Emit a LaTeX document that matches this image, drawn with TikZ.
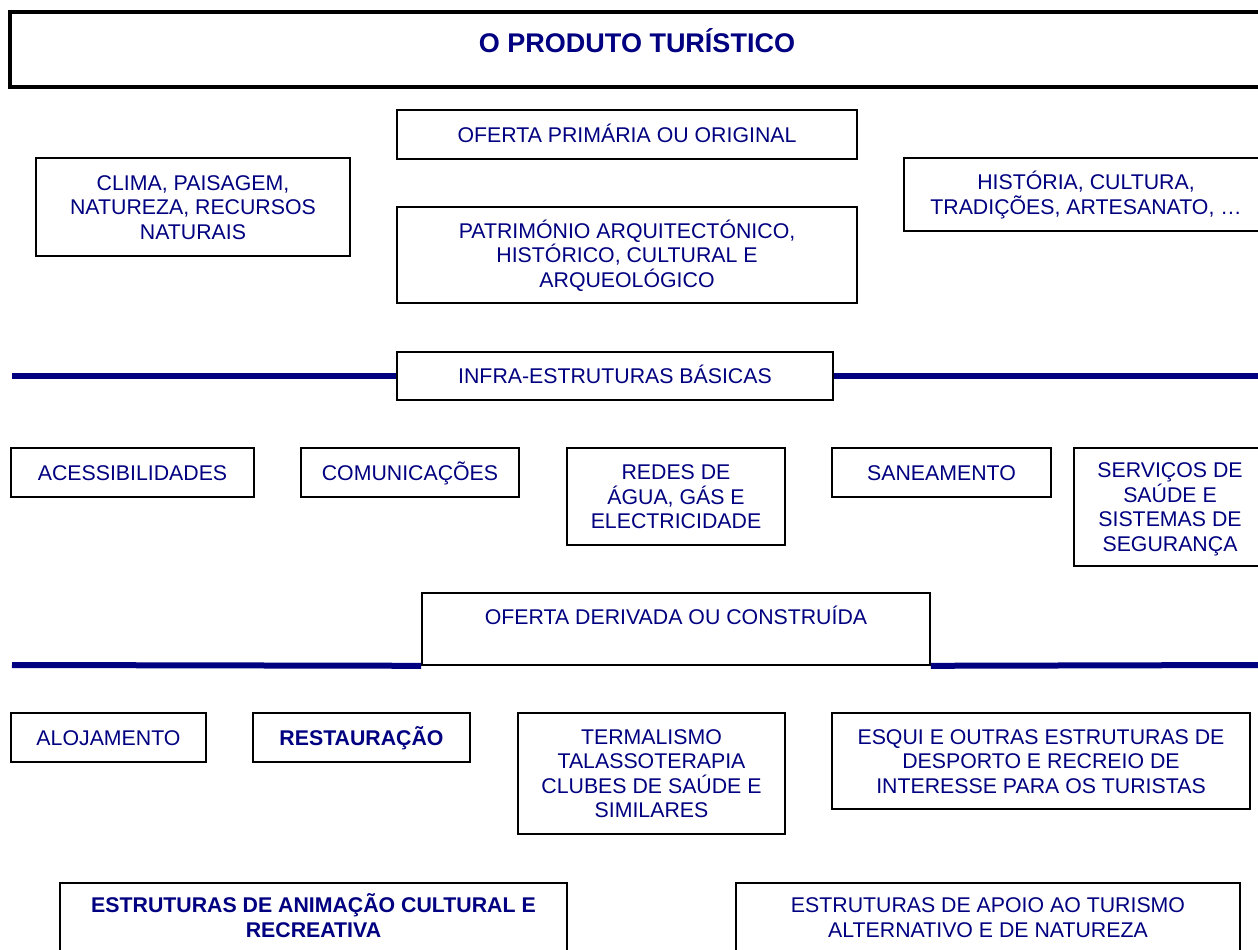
\documentclass[tikz,border=0pt]{standalone}
\usepackage{fontspec}
\setmainfont{Liberation Sans}
\definecolor{navy}{RGB}{0,0,128}
\newcommand{\ft}{\rule{0pt}{22bp}}
\newcommand{\lb}{\rule[-6.7bp]{0pt}{6.7bp}}
\newcommand{\txtfont}{\fontsize{21.3bp}{24.5bp}\selectfont}
\newcommand{\ttlfont}{\fontsize{27bp}{32bp}\selectfont\bfseries}
\tikzset{
  box/.style={draw=black, line width=1.6bp, inner sep=0pt, align=center, text=navy, font=\txtfont},
  ttlbox/.style={draw=black, line width=4bp, inner sep=0pt},
  txt/.style={inner sep=0pt, align=center, text=navy, font=\txtfont},
  bar/.style={draw=navy, line width=6bp},
}
\begin{document}
\begin{tikzpicture}[x=1bp,y=-1bp]
\useasboundingbox (0,0) rectangle (1258,950);
\fill[white] (0,0) rectangle (1258,950);
\clip (0,0) rectangle (1258,950);

% title
\node[ttlbox, minimum width=1265bp, minimum height=75bp] (title) at (642.5,49.5) {};
\node[txt, font=\ttlfont, anchor=base] (titletxt) at (637,52) {O PRODUTO TURÍSTICO};

% primary offer
\node[box, minimum width=460bp, minimum height=49bp] (oferta) at (627,134.5) {\ft\lb OFERTA PRIMÁRIA OU ORIGINAL};
\node[box, minimum width=314bp, minimum height=98bp] (clima) at (193,207) {\ft CLIMA, PAISAGEM,\\ NATUREZA, RECURSOS\\ NATURAIS\lb};
\node[box, minimum width=460bp, minimum height=96bp] (patr) at (627,255) {\ft PATRIMÓNIO ARQUITECTÓNICO,\\ HISTÓRICO, CULTURAL E\\ ARQUEOLÓGICO\lb};
\node[box, minimum width=364bp, minimum height=73bp] (hist) at (1086,194.5) {\ft HISTÓRIA, CULTURA,\\ TRADIÇÕES, ARTESANATO, …\lb};

% infrastructures
\node[box, minimum width=436bp, minimum height=48bp] (infra) at (615,376) {\ft\lb INFRA-ESTRUTURAS BÁSICAS};
\coordinate (il) at (12,376);
\coordinate (ir) at (1262,376);
\draw[bar] (il) -- (infra.west);
\draw[bar] (infra.east) -- (ir);

\node[box, minimum width=243bp, minimum height=49bp] (acess) at (132.5,472.5) {\ft\lb ACESSIBILIDADES};
\node[box, minimum width=218bp, minimum height=49bp] (comun) at (410,472.5) {\ft\lb COMUNICAÇÕES};
\node[box, minimum width=218bp, minimum height=97bp] (redes) at (676,496.5) {\ft REDES DE\\ ÁGUA, GÁS E\\ ELECTRICIDADE\lb};
\node[box, minimum width=219bp, minimum height=49bp] (sanea) at (941.5,472.5) {\ft\lb SANEAMENTO};
\node[box, minimum width=192bp, minimum height=118bp] (servic) at (1170,507) {\ft SERVIÇOS DE\\ SAÚDE E\\ SISTEMAS DE\\ SEGURANÇA\lb};

% derived offer
\node[box, minimum width=508bp, minimum height=72bp] (deriv) at (676,629) {};
\node[txt] (derivtxt) at (676,616.5) {\ft\lb OFERTA DERIVADA OU CONSTRUÍDA};
\coordinate (dl) at (12,665);
\coordinate (dr) at (1262,665);
\draw[bar] (dl) -- (deriv.south west);
\draw[bar] (deriv.south east) -- (dr);

\node[box, minimum width=195bp, minimum height=49bp] (aloj) at (108.5,737.5) {\ft\lb ALOJAMENTO};
\node[box, minimum width=217bp, minimum height=49bp, font=\txtfont\bfseries] (rest) at (361.5,737.5) {\ft\lb RESTAURAÇÃO};
\node[box, minimum width=267bp, minimum height=121bp] (termal) at (651.5,773.5) {\ft TERMALISMO\\ TALASSOTERAPIA\\ CLUBES DE SAÚDE E\\ SIMILARES\lb};
\node[box, minimum width=418bp, minimum height=96bp] (esqui) at (1041,761) {\ft ESQUI E OUTRAS ESTRUTURAS DE\\ DESPORTO E RECREIO DE\\ INTERESSE PARA OS TURISTAS\lb};

\node[box, minimum width=507bp, minimum height=92bp] (anim) at (313.5,929) {};
\node[txt, font=\txtfont\bfseries] (animtxt) at (313.5,917.5) {\ft ESTRUTURAS DE ANIMAÇÃO CULTURAL E\\ RECREATIVA\lb};
\node[box, minimum width=504bp, minimum height=92bp] (apoio) at (988,929) {};
\node[txt] (apoiotxt) at (988,917.5) {\ft ESTRUTURAS DE APOIO AO TURISMO\\ ALTERNATIVO E DE NATUREZA\lb};
\end{tikzpicture}
\end{document}
